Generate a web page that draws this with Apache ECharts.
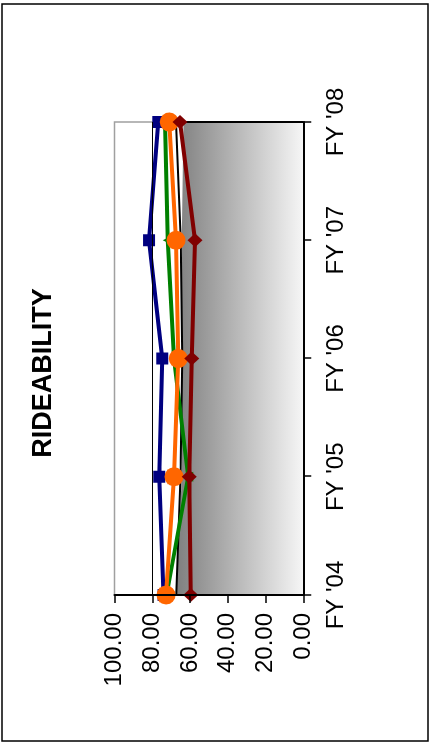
<!DOCTYPE html>
<html><head><meta charset="utf-8">
<script src="https://cdn.jsdelivr.net/npm/echarts@6/dist/echarts.min.js"></script>
<style>
html,body{margin:0;padding:0;background:#fff;overflow:hidden;width:432px;height:745px;}
#chart{position:absolute;left:0;top:745px;width:745px;height:432px;transform-origin:0 0;transform:rotate(-90deg);}
</style></head><body><div id="chart"></div>
<script>
const titleText = "RIDEABILITY";
const categories = ["FY '04", "FY '05", "FY '06", "FY '07", "FY '08"];
const blueValues = [74.0, 76.3, 74.7, 81.7, 76.8];
const greenValues = [72.4, 61.0, 68.5, 71.8, 73.2];
const orangeValues = [72.7, 68.5, 66.2, 67.4, 71.0];
const maroonValues = [59.6, 60.4, 59.1, 57.4, 65.3];
const blackLineValues = [67.3, 65.0, 64.1, 64.9, 67.4];
const areaValues = [67.3, 64.4, 64.1, 64.4, 63.5];
const referenceValue = 80;
const valueMin = 0, valueMax = 100, valueStep = 20;

const FONT = "'Liberation Sans', Arial, sans-serif";
const chart = echarts.init(document.getElementById('chart'), null, {renderer: 'canvas'});

function lineSeries(name, data, color, symbol, size, z) {
  return {
    name, type: 'line', data, z,
    symbol, symbolSize: size, showSymbol: true,
    lineStyle: {color, width: 4},
    itemStyle: {color, borderWidth: 0},
    emphasis: {disabled: true}
  };
}

chart.setOption({
  animation: false,
  backgroundColor: '#fff',
  grid: {left: 150, right: 122, top: 114.5, bottom: 128.7, show: true,
         backgroundColor: '#fff', borderColor: '#a0a0a0', borderWidth: 1.5},
  graphic: [
    {type: 'rect', shape: {x: 4, y: 2, width: 737, height: 426},
     style: {fill: null, stroke: '#000', lineWidth: 1.5}, z: 0},
    {type: 'text', x: 372, y: 44,
     style: {text: titleText, font: 'bold 27px ' + FONT, fill: '#000',
             textAlign: 'center', textVerticalAlign: 'middle'}}
  ],
  xAxis: {
    type: 'category', data: categories, boundaryGap: false,
    axisLine: {show: true, lineStyle: {color: '#000', width: 2}},
    axisTick: {show: true, inside: false, length: 8, interval: 0, lineStyle: {color: '#000', width: 1.5}},
    axisLabel: {interval: 0, fontSize: 24, color: '#000', fontFamily: FONT, margin: 21},
    splitLine: {show: false}, z: 10
  },
  yAxis: {
    type: 'value', min: valueMin, max: valueMax, interval: valueStep,
    axisLine: {show: true, lineStyle: {color: '#000', width: 2}},
    axisTick: {show: true, inside: false, length: 8, lineStyle: {color: '#000', width: 1.5}},
    axisLabel: {fontSize: 24, color: '#000', fontFamily: FONT, margin: 18,
                formatter: v => v.toFixed(2)},
    splitLine: {show: false}, z: 10
  },
  series: [
    {
      name: 'area', type: 'line', data: areaValues, symbol: 'none', z: 1,
      lineStyle: {width: 0},
      areaStyle: {opacity: 1, color: new echarts.graphic.LinearGradient(0, 0, 0, 1, [
        {offset: 0, color: '#7f7f7f'}, {offset: 1, color: '#f6f6f6'}])},
      emphasis: {disabled: true},
      markLine: {
        silent: true, symbol: 'none', label: {show: false},
        lineStyle: {color: '#000', type: 'solid', width: 1},
        data: [
          {yAxis: referenceValue},
          [{coord: [categories[4], valueMin], lineStyle: {width: 2}},
           {coord: [categories[4], areaValues[4]]}]
        ]
      }
    },
    {name: 'black', type: 'line', data: blackLineValues, symbol: 'none', z: 2,
     lineStyle: {color: '#000', width: 2}, emphasis: {disabled: true}},
    lineSeries('blue', blueValues, '#000080', 'rect', 12, 3),
    lineSeries('green', greenValues, '#008000', 'triangle', 10, 4),
    lineSeries('orange', orangeValues, '#FF6600', 'circle', 19, 5),
    lineSeries('maroon', maroonValues, '#800000', 'diamond', [14, 15], 6)
  ]
});
</script></body></html>
